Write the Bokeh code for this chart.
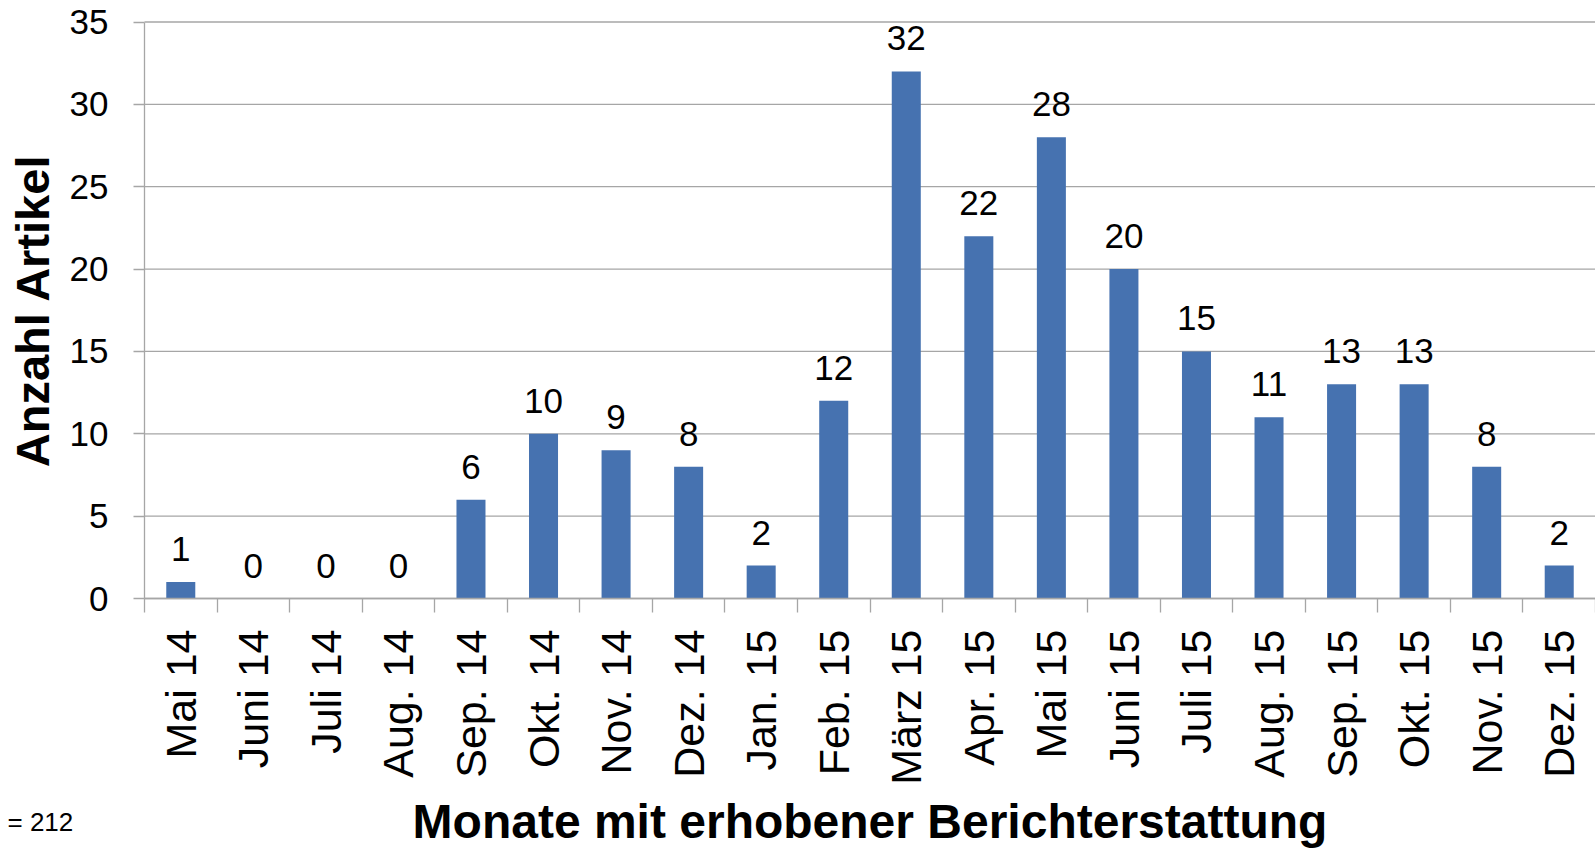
import math
from bokeh.plotting import figure
from bokeh.models import ColumnDataSource, FixedTicker, Label, Range1d
from bokeh.core.properties import value
from bokeh.embed import file_html
from bokeh.resources import INLINE

months = ["Mai 14", "Juni 14", "Juli 14", "Aug. 14", "Sep. 14", "Okt. 14", "Nov. 14",
          "Dez. 14", "Jan. 15", "Feb. 15", "März 15", "Apr. 15", "Mai 15", "Juni 15",
          "Juli 15", "Aug. 15", "Sep. 15", "Okt. 15", "Nov. 15", "Dez. 15"]
counts = [1, 0, 0, 0, 6, 10, 9, 8, 2, 12, 32, 22, 28, 20, 15, 11, 13, 13, 8, 2]
y_ticks = [0, 5, 10, 15, 20, 25, 30, 35]
total_label = "= 212"

FONT = "Liberation Sans"
GRID = "#a6a6a6"
BAR = "#4672B0"

# layout in pixels: the whole canvas is the plot frame; axes sit at fixed places
W, H = 1595, 852
PLOT_LEFT, PLOT_RIGHT = 144, 1595      # pixel x of category band edges
PLOT_TOP, PLOT_ZERO = 21.5, 598        # pixel y of y=35 and y=0
n = len(months)
cw = (PLOT_RIGHT - PLOT_LEFT) / n
uy = (PLOT_ZERO - PLOT_TOP) / y_ticks[-1]
x0 = -0.5 - PLOT_LEFT / cw
x1 = -0.5 + (W - PLOT_LEFT) / cw
y0 = -(H - PLOT_ZERO) / uy
y1 = y_ticks[-1] + PLOT_TOP / uy

pos = list(range(n))
src = ColumnDataSource(dict(x=pos, y=counts, lbl=[str(c) for c in counts]))

p = figure(width=W, height=H, output_backend="svg", toolbar_location=None,
           x_range=Range1d(x0, x1), y_range=Range1d(y0, y1),
           min_border=0, min_border_left=0, min_border_right=0,
           min_border_top=0, min_border_bottom=0)
p.outline_line_color = None
p.background_fill_color = "white"
p.border_fill_color = "white"
p.xgrid.visible = False
p.ygrid.visible = False

# horizontal grid lines over the category area
p.segment(x0=[-0.5] * len(y_ticks), x1=[n - 0.5] * len(y_ticks), y0=y_ticks, y1=y_ticks,
          line_color=GRID, line_width=1.3)

p.vbar(x="x", top="y", width=0.4, bottom=0, source=src, fill_color=BAR, line_color=None)
p.text(x="x", y="y", text="lbl", source=src, text_align="center",
       text_baseline="alphabetic", y_offset=-33, text_font=value(FONT),
       text_font_size="35px", text_color="black")

# y axis
ya = p.yaxis[0]
ya.fixed_location = -0.5
ya.bounds = (0, y_ticks[-1])
ya.ticker = FixedTicker(ticks=y_ticks)
ya.axis_line_color = GRID
ya.axis_line_width = 1.3
ya.major_tick_line_color = GRID
ya.major_tick_line_width = 1.3
ya.major_tick_out = 11
ya.major_tick_in = 0
ya.minor_tick_line_color = None
ya.major_label_standoff = 25
ya.major_label_text_font = FONT
ya.major_label_text_font_size = "35px"
ya.major_label_text_color = "black"
ya.axis_label = "Anzahl Artikel"
ya.axis_label_text_font = FONT
ya.axis_label_text_font_style = "bold"
ya.axis_label_text_font_size = "47px"
ya.axis_label_text_color = "black"
ya.axis_label_standoff = 8

# x axis
xa = p.xaxis[0]
xa.fixed_location = 0
xa.bounds = (-0.5, n - 0.5)
xa.ticker = FixedTicker(ticks=pos, minor_ticks=[i - 0.5 for i in range(n + 1)])
xa.major_label_overrides = {i: m for i, m in zip(pos, months)}
xa.major_label_orientation = math.pi / 2
xa.axis_line_color = GRID
xa.axis_line_width = 1.3
xa.major_tick_line_color = None
xa.major_tick_out = 0
xa.major_tick_in = 0
xa.minor_tick_line_color = GRID
xa.minor_tick_line_width = 1.3
xa.minor_tick_out = 14
xa.minor_tick_in = 0
xa.major_label_standoff = 17
xa.major_label_text_font = FONT
xa.major_label_text_font_size = "43px"
xa.major_label_text_color = "black"
xa.axis_label = "Monate mit erhobener Berichterstattung"
xa.axis_label_text_font = FONT
xa.axis_label_text_font_style = "bold"
xa.axis_label_text_font_size = "48px"
xa.axis_label_text_color = "black"
xa.axis_label_standoff = 7

# total count note at the bottom left
p.add_layout(Label(x=-0.5 + (7 - PLOT_LEFT) / cw, y=-(821 - PLOT_ZERO) / uy,
                   text=total_label, text_font=FONT, text_font_size="26px",
                   text_color="black", text_baseline="alphabetic"))

open("out.html", "w").write(file_html(p, INLINE))
